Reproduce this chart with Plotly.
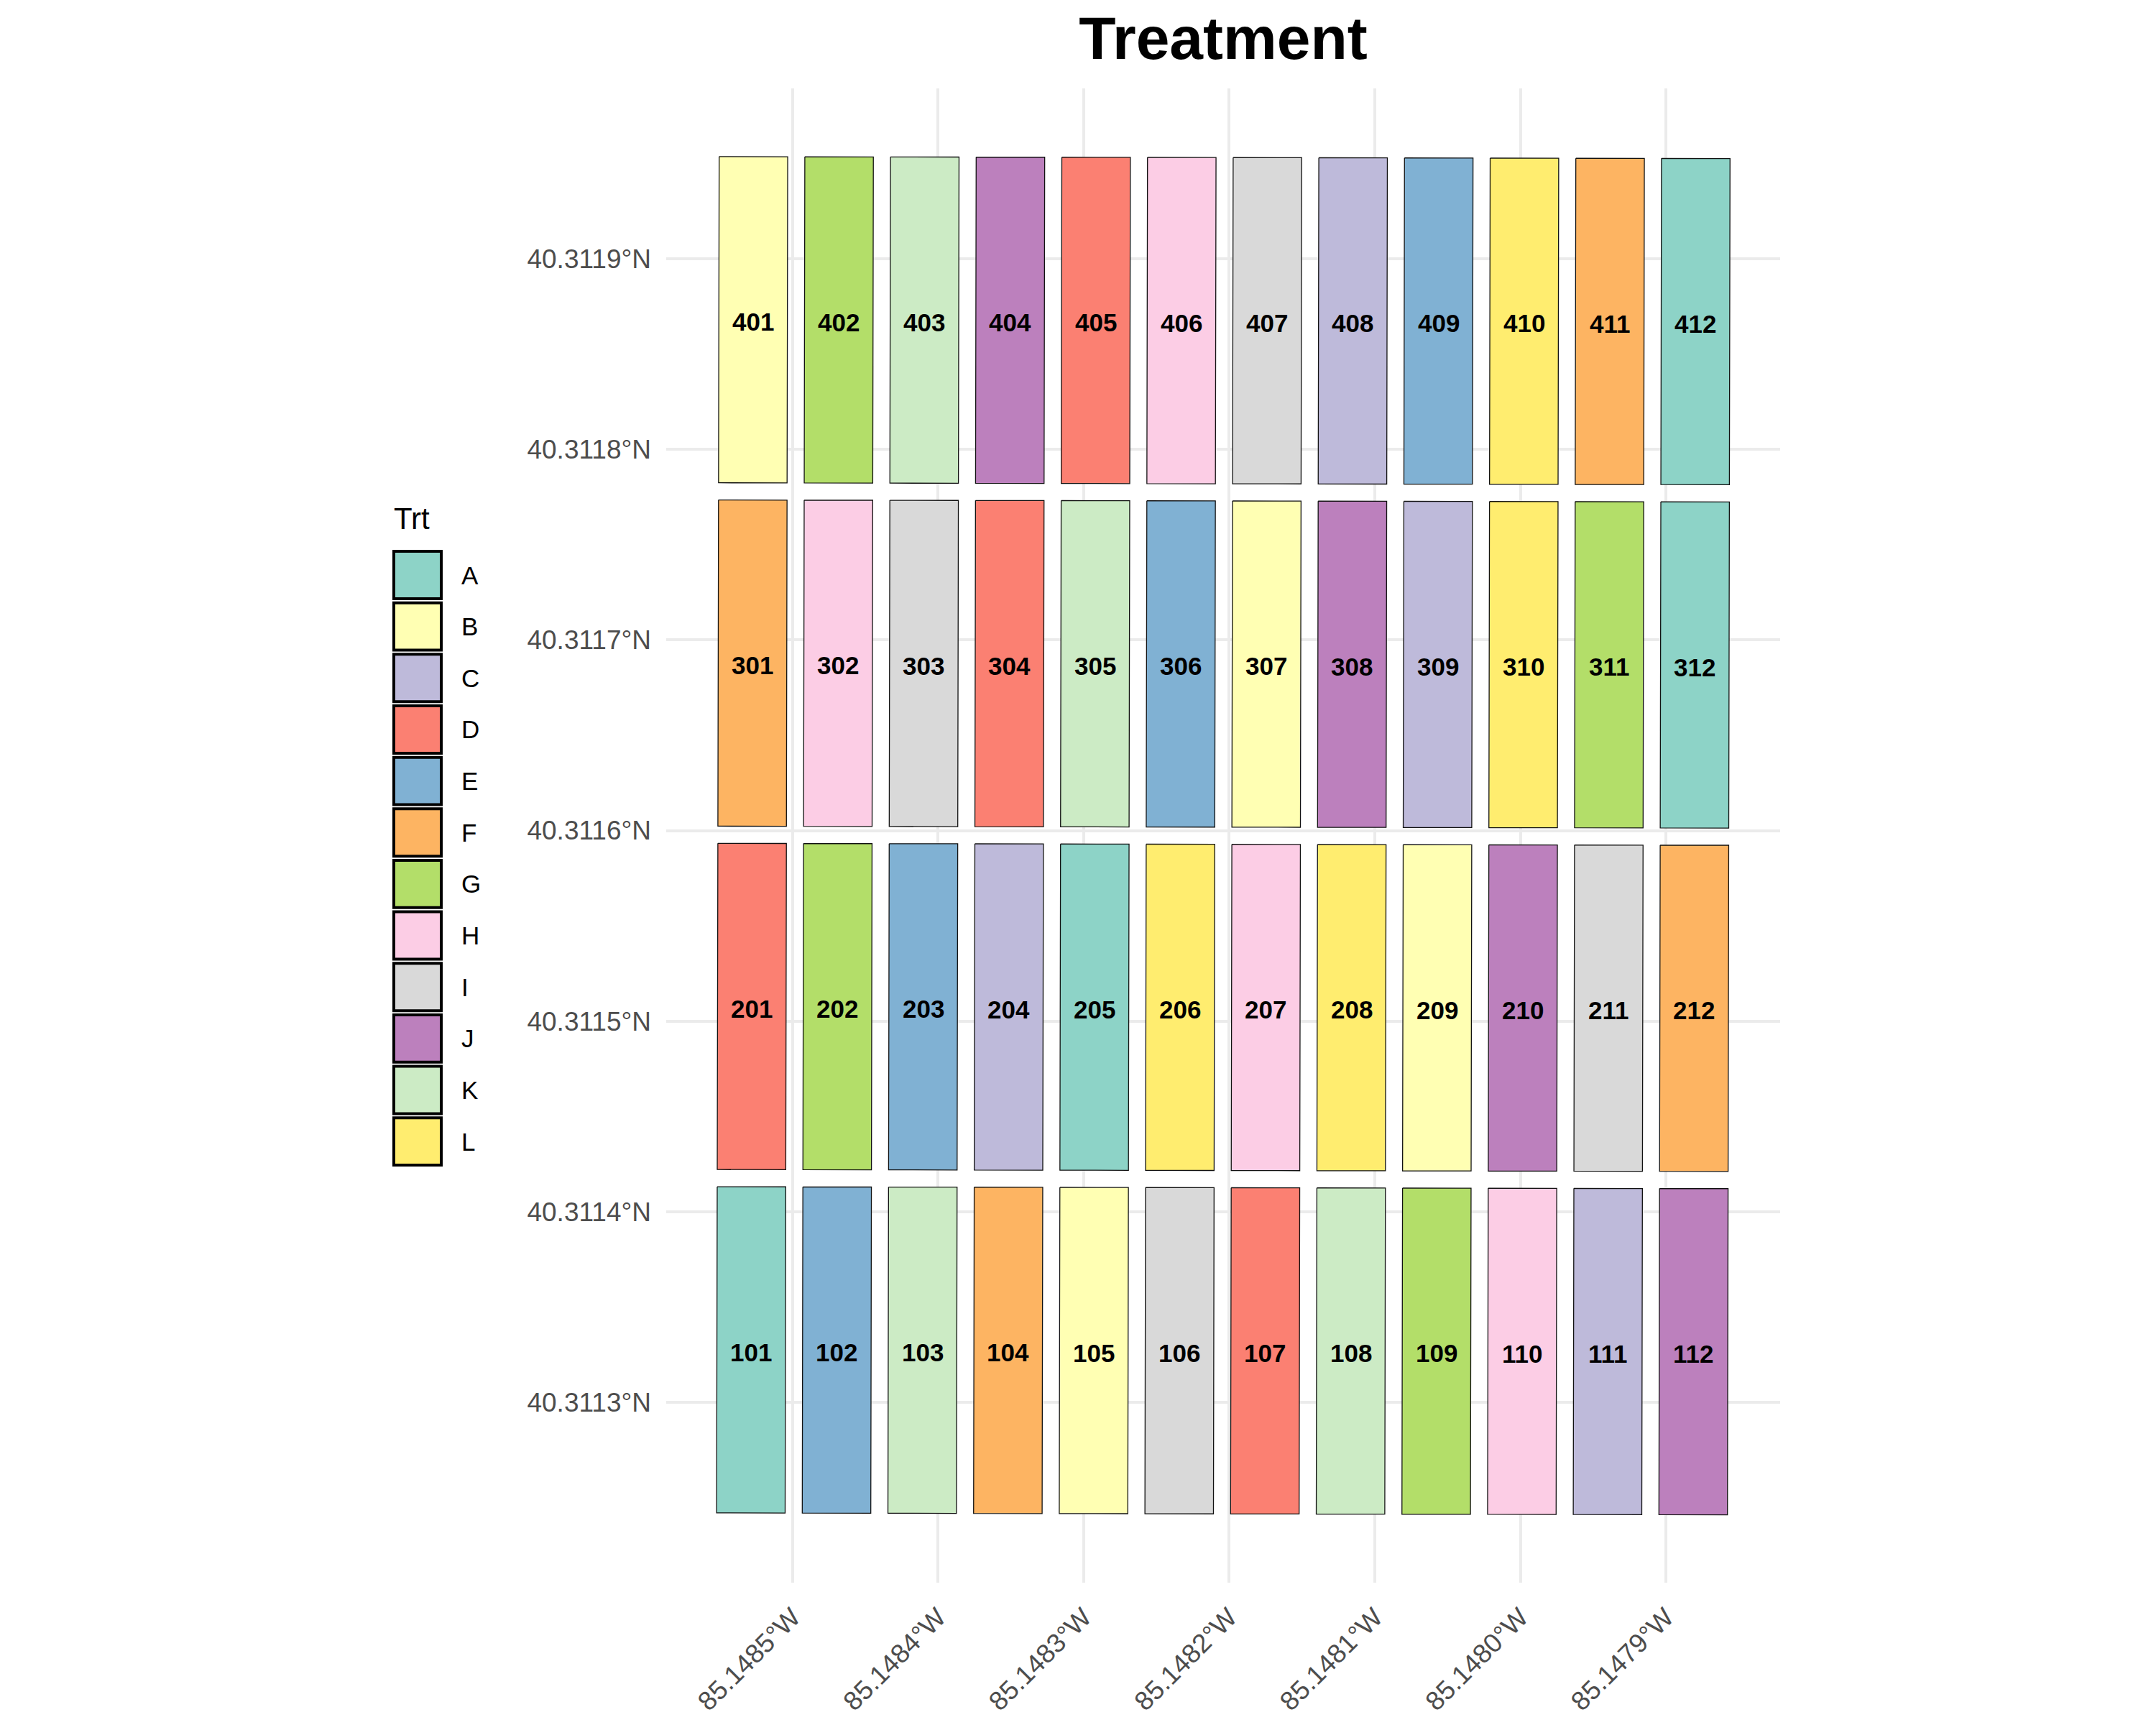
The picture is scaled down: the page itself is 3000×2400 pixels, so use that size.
import plotly.graph_objects as go

# ---------------- data ----------------
TREATMENTS = ["A", "B", "C", "D", "E", "F", "G", "H", "I", "J", "K", "L"]
SET3 = ["#8DD3C7", "#FFFFB3", "#BEBADA", "#FB8072", "#80B1D3", "#FDB462",
        "#B3DE69", "#FCCDE5", "#D9D9D9", "#BC80BD", "#CCEBC5", "#FFED6F"]

ROW4_PLOTS = [401, 402, 403, 404, 405, 406, 407, 408, 409, 410, 411, 412]
ROW3_PLOTS = [301, 302, 303, 304, 305, 306, 307, 308, 309, 310, 311, 312]
ROW2_PLOTS = [201, 202, 203, 204, 205, 206, 207, 208, 209, 210, 211, 212]
ROW1_PLOTS = [101, 102, 103, 104, 105, 106, 107, 108, 109, 110, 111, 112]

ROW4_TRT = ["B", "G", "K", "J", "D", "H", "I", "C", "E", "L", "F", "A"]
ROW3_TRT = ["F", "H", "I", "D", "K", "E", "B", "J", "C", "L", "G", "A"]
ROW2_TRT = ["D", "G", "E", "C", "A", "L", "H", "L", "B", "J", "I", "F"]
ROW1_TRT = ["A", "E", "K", "F", "B", "I", "D", "K", "G", "H", "C", "J"]

# field layout (metres from NW corner of plot 401)
COL_EAST_M = [0, 5, 10, 15, 20, 25, 30, 35, 40, 45, 50, 55]
ROW_SOUTH_M = [0, 20, 40, 60]          # rows 4, 3, 2, 1
PLOT_W_M = 4.0
PLOT_L_M = 19.0
ROT = 0.0019                            # slight clockwise field rotation (rad)
LON0 = -85.14855052
LAT0 = 40.31195345
M_PER_DEG_LON = 84940.0
M_PER_DEG_LAT = 111060.0

X_RANGE = [-85.14858691, -85.14782148]
Y_RANGE = [40.31120553, 40.31198921]
X_TICKS = [-85.1485, -85.1484, -85.1483, -85.1482, -85.1481, -85.1480, -85.1479]
X_LABELS = ["85.1485°W", "85.1484°W", "85.1483°W", "85.1482°W",
            "85.1481°W", "85.1480°W", "85.1479°W"]
Y_TICKS = [40.3113, 40.3114, 40.3115, 40.3116, 40.3117, 40.3118, 40.3119]
Y_LABELS = ["40.3113°N", "40.3114°N", "40.3115°N", "40.3116°N",
            "40.3117°N", "40.3118°N", "40.3119°N"]

ROWS = [(ROW4_PLOTS, ROW4_TRT), (ROW3_PLOTS, ROW3_TRT),
        (ROW2_PLOTS, ROW2_TRT), (ROW1_PLOTS, ROW1_TRT)]

FONT = "Liberation Sans, Arial, Helvetica, sans-serif"


def to_lonlat(e, s):
    e2 = e - s * ROT
    s2 = s + e * ROT
    return LON0 + e2 / M_PER_DEG_LON, LAT0 - s2 / M_PER_DEG_LAT


# build polygons grouped by treatment
poly = {t: ([], []) for t in TREATMENTS}
labels = []
for (plots, trts), rs in zip(ROWS, ROW_SOUTH_M):
    for pid, trt, ce in zip(plots, trts, COL_EAST_M):
        pts = [(ce, rs), (ce + PLOT_W_M, rs), (ce + PLOT_W_M, rs + PLOT_L_M),
               (ce, rs + PLOT_L_M), (ce, rs)]
        xs, ys = poly[trt]
        for e, s in pts:
            lo, la = to_lonlat(e, s)
            xs.append(lo)
            ys.append(la)
        xs.append(None)
        ys.append(None)
        cx, cy = to_lonlat(ce + PLOT_W_M / 2, rs + PLOT_L_M / 2)
        labels.append((cx, cy, str(pid)))

fig = go.Figure()
for t, col in zip(TREATMENTS, SET3):
    xs, ys = poly[t]
    if not xs:
        continue
    fig.add_trace(go.Scatter(
        x=xs, y=ys, mode="lines", fill="toself", fillcolor=col,
        line=dict(color="#111111", width=1.3), name=t,
        showlegend=False, hoverinfo="skip"))

# ---------------- layout ----------------
W, H = 3000, 2400
PL, PR, PT, PB = 927, 2477, 123, 2205


def px_x(px):
    return (px - PL) / (PR - PL)


def px_y(py):
    return (PB - py) / (PB - PT)


shapes = []
annotations = []
for cx, cy, txt in labels:
    annotations.append(dict(
        x=cx, y=cy, xref="x", yref="y", text=txt, showarrow=False,
        xanchor="center", yanchor="middle", yshift=-3,
        font=dict(family=FONT, size=35, color="black", weight="bold")))

# custom legend (ggplot-style keys)
LEG_LEFT, LEG_TOP, KEY, PITCH = 546, 766, 70, 71.75
annotations.append(dict(
    x=px_x(LEG_LEFT), y=px_y(722), xref="paper", yref="paper",
    text="Trt", showarrow=False, xanchor="left", yanchor="middle",
    font=dict(family=FONT, size=42, color="black")))
for i, (t, col) in enumerate(zip(TREATMENTS, SET3)):
    top = LEG_TOP + i * PITCH
    shapes.append(dict(
        type="rect", xref="paper", yref="paper",
        x0=px_x(LEG_LEFT + 2), x1=px_x(LEG_LEFT + KEY - 2),
        y0=px_y(top + 2), y1=px_y(top + KEY - 2),
        fillcolor=col, line=dict(color="black", width=4)))
    annotations.append(dict(
        x=px_x(640), y=px_y(top + KEY / 2), xref="paper", yref="paper",
        text=t, showarrow=False, xanchor="left", yanchor="middle",
        font=dict(family=FONT, size=35, color="black")))

fig.update_layout(
    width=W, height=H,
    margin=dict(l=PL, r=W - PR, t=PT, b=H - PB, pad=0),
    paper_bgcolor="white", plot_bgcolor="white",
    title=dict(text="<b>Treatment</b>", x=0.5, xref="paper", xanchor="center",
               y=1 - 53 / H, yref="container", yanchor="middle",
               font=dict(family=FONT, size=84, color="black")),
    shapes=shapes, annotations=annotations,
    showlegend=False,
)
fig.update_xaxes(
    range=X_RANGE, tickvals=X_TICKS, ticktext=X_LABELS, tickangle=-45,
    showgrid=True, gridcolor="#EBEBEB", gridwidth=3.5, zeroline=False,
    showline=False, ticks="", ticklabelstandoff=18,
    tickfont=dict(family=FONT, size=37, color="#4D4D4D"))
fig.update_yaxes(
    range=Y_RANGE, tickvals=Y_TICKS, ticktext=Y_LABELS,
    showgrid=True, gridcolor="#EBEBEB", gridwidth=3.5, zeroline=False,
    showline=False, ticks="", ticklabelstandoff=20,
    tickfont=dict(family=FONT, size=37, color="#4D4D4D"))

fig.write_html("out.html")
